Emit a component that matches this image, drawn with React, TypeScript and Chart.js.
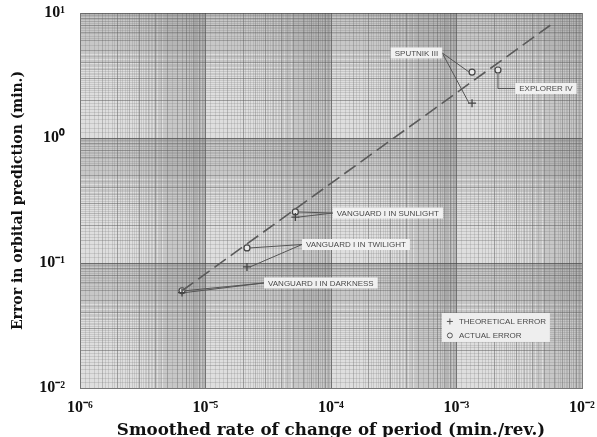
import React, { useEffect, useRef } from 'react';
import { Chart, registerables } from 'chart.js';

Chart.register(...registerables);

// ---- data ----
const satellites = ['Vanguard I (darkness)', 'Vanguard I (twilight)', 'Vanguard I (sunlight)', 'Sputnik III', 'Explorer IV'];
const rateOfChange = [6.5e-6, 2.14e-5, 5.2e-5, 1.33e-3, 2.14e-3];
const theoreticalError: (number | null)[] = [0.058, 0.093, 0.233, 1.9, null];
const actualError = [0.06, 0.132, 0.256, 3.37, 3.5];

const trendRate = [6.5e-6, 5.9e-3];
const trendError = [0.06, 8.3];

const xDecades = [-6, -5, -4, -3, -2];
const yDecades = [-2, -1, 0, 1];

// annotation labels (anchored in data units)
const noteText = ['VANGUARD I IN DARKNESS', 'VANGUARD I IN TWILIGHT', 'VANGUARD I IN SUNLIGHT', 'SPUTNIK III', 'EXPLORER IV'];
const noteRate = [8.3e-5, 1.58e-4, 2.84e-4, 4.8e-4, 5.16e-3];
const noteError = [0.0692, 0.1406, 0.251, 4.79, 2.49];
const noteSide = ['left', 'left', 'left', 'right', 'elbow'];

const legendText = ['THEORETICAL ERROR', 'ACTUAL ERROR'];
const legendRate = 2.06e-3;
const legendError = 0.0305;

const SUP: Record<string, string> = { '-': '\u207B', '0': '\u2070', '1': '\u00B9', '2': '\u00B2', '3': '\u00B3', '4': '\u2074', '5': '\u2075', '6': '\u2076', '7': '\u2077', '8': '\u2078', '9': '\u2079' };
const powLabel = (e: number) => '10' + String(e).split('').map((c) => SUP[c]).join('');

function paperTicks(decades: number[]) {
  const lo = Math.min(...decades);
  const hi = Math.max(...decades);
  const t: { value: number }[] = [];
  for (let d = lo; d < hi; d++) {
    for (let k = 10; k < 100; k++) t.push({ value: (k / 10) * Math.pow(10, d) });
  }
  t.push({ value: Math.pow(10, hi) });
  return t;
}

function mantissa(v: number) {
  const e = Math.floor(Math.log10(v) + 1e-9);
  return Math.round((v / Math.pow(10, e)) * 10) / 10;
}

function gridColor(ctx: any) {
  const v = ctx.tick ? ctx.tick.value : null;
  if (v == null) return 'rgba(110,110,110,0.22)';
  const m = mantissa(v);
  if (Math.abs(m - 1) < 1e-6 || Math.abs(m - 10) < 1e-6) return 'rgba(70,70,70,0.7)';
  if (Math.abs(m - Math.round(m)) < 1e-6) return 'rgba(90,90,90,0.5)';
  if (Math.abs(m * 2 - Math.round(m * 2)) < 1e-6) return 'rgba(105,105,105,0.35)';
  return 'rgba(120,120,120,0.22)';
}

function decadeLabel(value: number) {
  const l = Math.log10(value);
  if (Math.abs(l - Math.round(l)) < 1e-9) return powLabel(Math.round(l));
  return '';
}

const notesPlugin = {
  id: 'paperNotes',
  beforeDraw(chart: any) {
    const { ctx, chartArea: a } = chart;
    ctx.save();
    ctx.fillStyle = '#dedede';
    ctx.fillRect(a.left, a.top, a.right - a.left, a.bottom - a.top);
    ctx.restore();
  },
  afterDatasetsDraw(chart: any) {
    const { ctx } = chart;
    const xs = chart.scales.x;
    const ys = chart.scales.y;
    ctx.save();
    ctx.font = '8px "Liberation Sans", Arial, sans-serif';
    ctx.textBaseline = 'middle';
    ctx.textAlign = 'center';
    ctx.lineWidth = 1;
    ctx.strokeStyle = '#555';
    const h = 11;
    noteText.forEach((text, i) => {
      const cx = xs.getPixelForValue(noteRate[i]);
      const cy = ys.getPixelForValue(noteError[i]);
      const w = ctx.measureText(text).width + 8;
      const px = xs.getPixelForValue(rateOfChange[i]);
      const targets = [actualError[i], theoreticalError[i]].filter((v) => v != null) as number[];
      ctx.beginPath();
      if (noteSide[i] === 'elbow') {
        const py = ys.getPixelForValue(actualError[i]);
        ctx.moveTo(cx - w / 2, cy);
        ctx.lineTo(px, cy);
        ctx.lineTo(px, py + 4);
      } else {
        const sx = noteSide[i] === 'left' ? cx - w / 2 : cx + w / 2;
        targets.forEach((v) => {
          const py = ys.getPixelForValue(v);
          ctx.moveTo(sx, cy);
          ctx.lineTo(px + (sx < px ? -3 : 3), py);
        });
      }
      ctx.stroke();
      ctx.fillStyle = '#f1f1f1';
      ctx.fillRect(cx - w / 2, cy - h / 2, w, h);
      ctx.fillStyle = '#4a4a4a';
      ctx.fillText(text, cx, cy + 0.5);
    });

    // legend box
    const lx = xs.getPixelForValue(legendRate);
    const ly = ys.getPixelForValue(legendError);
    const lw = 108;
    const lh = 29;
    ctx.fillStyle = '#eeeeee';
    ctx.fillRect(lx - lw / 2, ly - lh / 2, lw, lh);
    ctx.textAlign = 'left';
    ctx.fillStyle = '#4a4a4a';
    const r1 = ly - 6;
    const r2 = ly + 8;
    const sx = lx - lw / 2 + 8;
    ctx.beginPath();
    ctx.moveTo(sx - 3, r1);
    ctx.lineTo(sx + 3, r1);
    ctx.moveTo(sx, r1 - 3);
    ctx.lineTo(sx, r1 + 3);
    ctx.stroke();
    ctx.beginPath();
    ctx.arc(sx, r2, 2.5, 0, Math.PI * 2);
    ctx.stroke();
    ctx.fillText(legendText[0], sx + 9, r1 + 0.5);
    ctx.fillText(legendText[1], sx + 9, r2 + 0.5);
    ctx.restore();
  },
};

export default function App() {
  const ref = useRef<HTMLCanvasElement | null>(null);
  useEffect(() => {
    if (!ref.current) return;
    const chart = new Chart(ref.current, {
      type: 'scatter',
      data: {
        datasets: [
          {
            label: 'Trend',
            data: trendRate.map((x, i) => ({ x, y: trendError[i] })),
            showLine: true,
            borderColor: '#5a5a5a',
            borderWidth: 1.6,
            borderDash: [14, 6],
            pointRadius: 0,
          },
          {
            label: 'Theoretical error',
            data: rateOfChange
              .map((x, i) => ({ x, y: theoreticalError[i] as number }))
              .filter((p) => p.y != null),
            pointStyle: 'cross',
            pointRadius: 4,
            borderColor: '#444',
            borderWidth: 1.3,
          },
          {
            label: 'Actual error',
            data: rateOfChange.map((x, i) => ({ x, y: actualError[i] })),
            pointStyle: 'circle',
            pointRadius: 3,
            borderColor: '#444',
            backgroundColor: 'rgba(240,240,240,0.8)',
            borderWidth: 1.2,
          },
        ],
      },
      options: {
        animation: false,
        responsive: true,
        maintainAspectRatio: false,
        layout: { padding: { top: 13, right: 15, left: 0, bottom: 0 } },
        plugins: { legend: { display: false }, tooltip: { enabled: false } },
        scales: {
          x: {
            type: 'logarithmic',
            min: Math.pow(10, Math.min(...xDecades)),
            max: Math.pow(10, Math.max(...xDecades)),
            afterBuildTicks: (s: any) => {
              s.ticks = paperTicks(xDecades);
            },
            afterFit: (s: any) => {
              s.height = 49;
              s.paddingLeft = 0;
              s.paddingRight = 0;
            },
            grid: { color: gridColor, lineWidth: 1, drawTicks: false },
            border: { display: true, color: '#777', width: 1 },
            ticks: {
              autoSkip: false,
              maxRotation: 0,
              minRotation: 0,
              padding: 10,
              color: '#111',
              font: { family: '"Liberation Serif", serif', size: 16, weight: 'bold' },
              callback: (v: any) => decadeLabel(Number(v)),
            },
            title: {
              display: true,
              text: 'Smoothed rate of change of period (min./rev.)',
              color: '#111',
              font: { family: '"DejaVu Serif", serif', size: 16.7, weight: 'bold' },
              padding: { top: 0, bottom: -3.5 },
            },
          },
          y: {
            type: 'logarithmic',
            min: Math.pow(10, Math.min(...yDecades)),
            max: Math.pow(10, Math.max(...yDecades)),
            afterBuildTicks: (s: any) => {
              s.ticks = paperTicks(yDecades);
            },
            afterFit: (s: any) => {
              s.width = 80;
              s.paddingTop = 0;
              s.paddingBottom = 0;
            },
            grid: { color: gridColor, lineWidth: 1, drawTicks: false },
            border: { display: true, color: '#777', width: 1 },
            ticks: {
              autoSkip: false,
              padding: 15,
              color: '#111',
              font: { family: '"Liberation Serif", serif', size: 16, weight: 'bold' },
              callback: (v: any) => decadeLabel(Number(v)),
            },
            title: {
              display: true,
              text: 'Error in orbital prediction (min.)',
              color: '#111',
              font: { family: '"DejaVu Serif", serif', size: 14, weight: 'bold' },
              padding: { top: 10, bottom: 0 },
            },
          },
        },
      },
      plugins: [notesPlugin],
    } as any);
    return () => chart.destroy();
  }, []);
  return (
    <div style={{ position: 'fixed', left: 0, top: 0, width: 597, height: 437, background: '#fff' }}>
      <canvas ref={ref} />
    </div>
  );
}
